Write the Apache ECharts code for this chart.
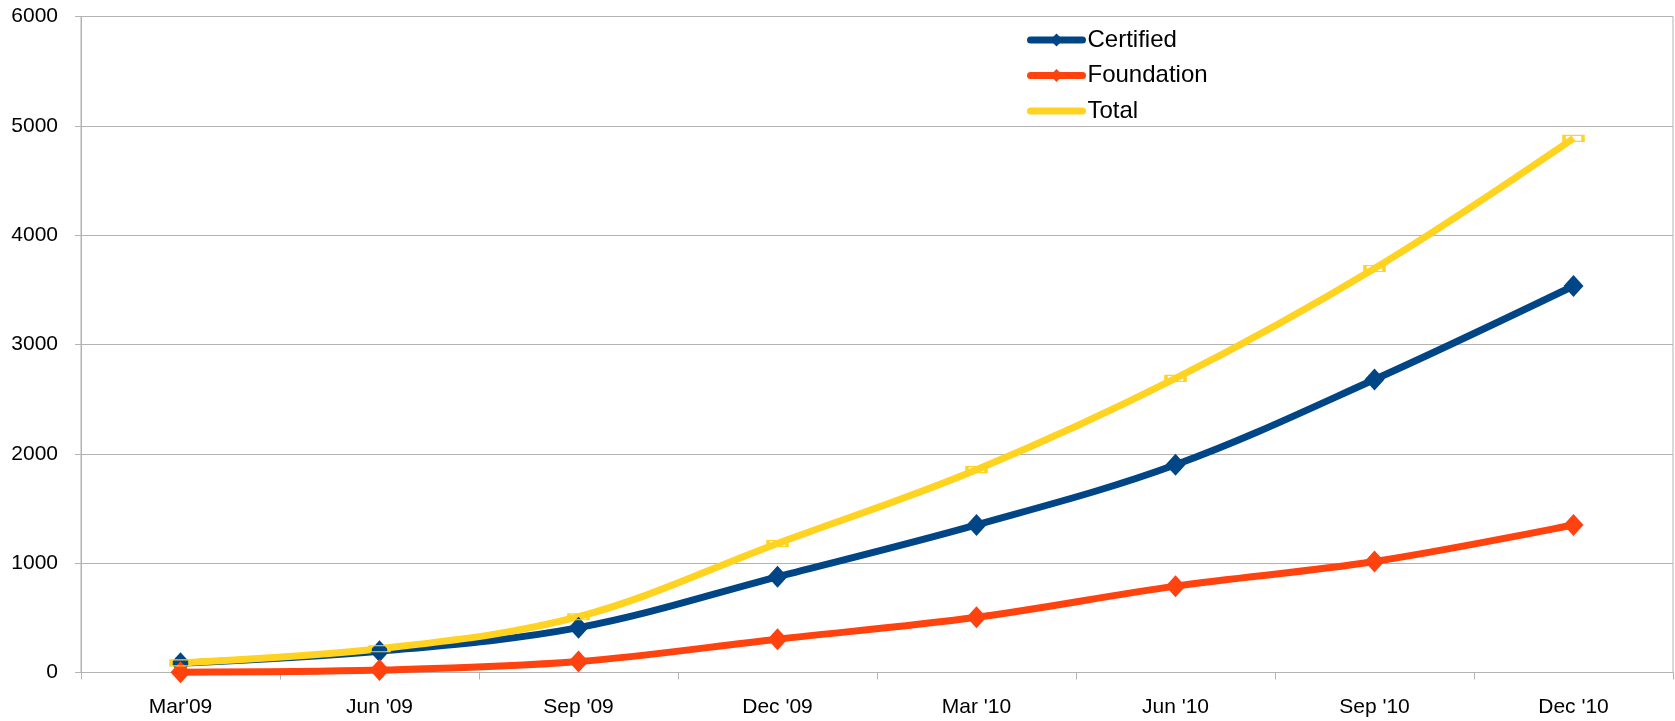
<!DOCTYPE html>
<html>
<head>
<meta charset="utf-8">
<script src="https://cdn.jsdelivr.net/npm/echarts@6/dist/echarts.min.js"></script>
<style>
html,body{margin:0;padding:0;background:#fff;}
#chart{width:1675px;height:721px;}
</style>
</head>
<body>
<div id="chart"></div>
<script>
const categories = ["Mar'09", "Jun '09", "Sep '09", "Dec '09", "Mar '10", "Jun '10", "Sep '10", "Dec '10"];
const certified = [85, 195, 410, 875, 1350, 1900, 2680, 3535];
const foundation = [3, 22, 100, 305, 505, 790, 1015, 1350];
const total = [88, 217, 510, 1180, 1855, 2690, 3695, 4885];
const yTicks = [0, 1000, 2000, 3000, 4000, 5000, 6000];

const chart = echarts.init(document.getElementById('chart'), null, {renderer: 'canvas'});
const font = 'Liberation Sans, Arial, sans-serif';
chart.setOption({
  animation: false,
  backgroundColor: '#ffffff',
  grid: {left: 81, right: 2, top: 16.5, bottom: 48.5, show: true, borderColor: '#b3b3b3', borderWidth: 1, backgroundColor: 'transparent'},
  legend: {
    orient: 'vertical', left: 1027, top: 28, padding: 0,
    itemWidth: 52, itemHeight: 16, itemGap: 11.5,
    textStyle: {fontFamily: font, fontSize: 24, color: '#000'},
    lineStyle: {width: 7, cap: 'round'},
    data: ['Certified', 'Foundation', {name: 'Total', itemStyle: {borderWidth: 0, borderColor: 'rgba(0,0,0,0)', color: 'rgba(0,0,0,0)'}}]
  },
  xAxis: {
    type: 'category', data: categories, boundaryGap: true,
    axisLine: {lineStyle: {color: '#b3b3b3', width: 1}},
    axisTick: {show: true, length: 7, lineStyle: {color: '#b3b3b3'}},
    axisLabel: {fontFamily: font, fontSize: 21, color: '#000', margin: 24},
    splitLine: {show: false}
  },
  yAxis: {
    type: 'value', min: yTicks[0], max: yTicks[yTicks.length - 1], interval: 1000,
    axisLine: {show: true, lineStyle: {color: '#b3b3b3', width: 1}},
    axisTick: {show: true, length: 6, lineStyle: {color: '#b3b3b3'}},
    axisLabel: {fontFamily: font, fontSize: 21, color: '#000', margin: 23, formatter: v => String(v)},
    splitLine: {show: true, lineStyle: {color: '#b3b3b3', width: 1}}
  },
  series: [
    {
      name: 'Certified', type: 'line', data: certified, smooth: 0.35,
      symbol: 'diamond', symbolSize: [20, 22],
      lineStyle: {color: '#004586', width: 7},
      itemStyle: {color: '#004586'}
    },
    {
      name: 'Foundation', type: 'line', data: foundation, smooth: 0.35,
      symbol: 'diamond', symbolSize: [20, 22],
      lineStyle: {color: '#ff420e', width: 7},
      itemStyle: {color: '#ff420e'}
    },
    {
      name: 'Total', type: 'line', data: total, smooth: 0.35,
      symbol: 'rect', symbolSize: [19, 6],
      lineStyle: {color: '#ffd320', width: 7},
      itemStyle: {color: 'rgba(255,255,255,0)', borderColor: '#ffd320', borderWidth: 2}
    }
  ]
});
</script>
</body>
</html>
